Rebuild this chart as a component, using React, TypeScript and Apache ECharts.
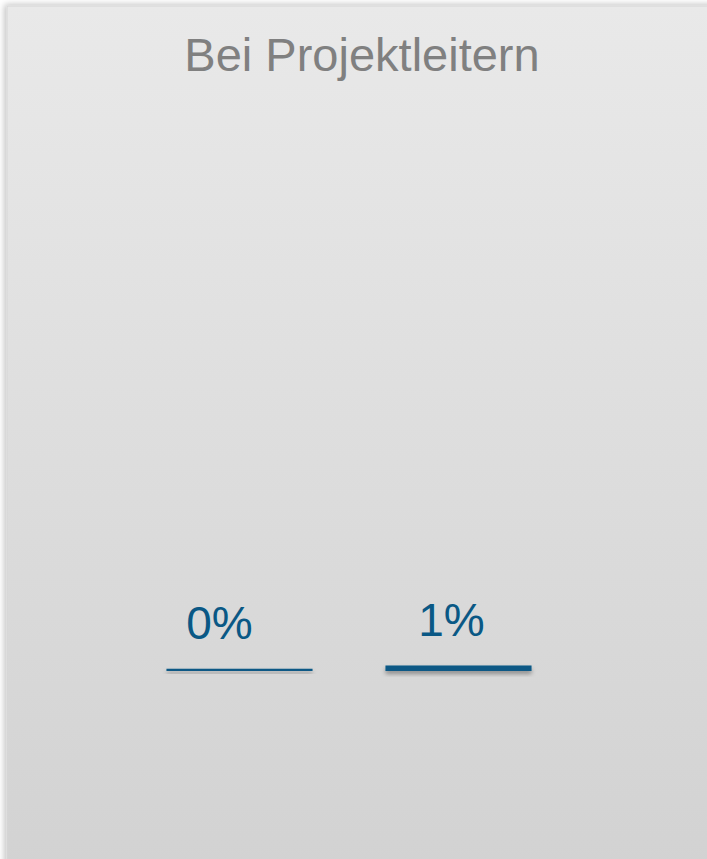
import React, { useEffect, useRef } from "react";
import * as echarts from "echarts";

const titleText = "Bei Projektleitern";
const categories = ["A", "B"];
const values = [0.4, 1.0];
const labelOffsets = [-20, -7];

export default function App() {
  const ref = useRef<HTMLDivElement>(null);
  useEffect(() => {
    if (!ref.current) return;
    const chart = echarts.init(ref.current, undefined, { renderer: "svg" });
    chart.setOption({
      animation: false,
      backgroundColor: "#ffffff",
      graphic: [
        {
          type: "rect",
          z: -10,
          shape: { x: 7, y: 6, width: 710, height: 870 },
          style: {
            fill: new echarts.graphic.LinearGradient(0, 0, 0, 1, [
              { offset: 0, color: "#e9e9e9" },
              { offset: 1, color: "#d2d2d2" },
            ]),
            stroke: "#d6d6d6",
            lineWidth: 1,
            shadowBlur: 6,
            shadowColor: "rgba(0,0,0,0.25)",
            shadowOffsetX: -2,
            shadowOffsetY: -1,
          },
        },
      ],
      title: {
        text: titleText,
        left: 357,
        top: 26,
        textAlign: "center",
        textStyle: {
          fontFamily: "Liberation Sans, Arial, sans-serif",
          fontSize: 47,
          fontWeight: "normal",
          color: "#808080",
        },
      },
      grid: { left: 130, width: 438, top: 121, bottom: 188 },
      xAxis: {
        type: "category",
        data: categories,
        show: false,
      },
      yAxis: { type: "value", min: 0, max: 100, show: false },
      series: [
        {
          type: "bar",
          barCategoryGap: "33.3%",
          data: values.map((v, i) => ({
            value: v,
            label: { offset: [labelOffsets[i], 0] },
          })),
          itemStyle: {
            color: "#0a5885",
            shadowBlur: 4,
            shadowColor: "rgba(0,0,0,0.35)",
            shadowOffsetY: 3,
          },
          label: {
            show: true,
            position: "top",
            distance: 23,
            fontFamily: "Liberation Sans, Arial, sans-serif",
            fontSize: 46,
            color: "#0a5885",
            formatter: (p: any) => Math.round(p.value) + "%",
          },
        },
      ],
    });
    return () => chart.dispose();
  }, []);
  return (
    <div
      ref={ref}
      style={{ position: "absolute", left: 0, top: 0, width: 707, height: 859 }}
    />
  );
}
